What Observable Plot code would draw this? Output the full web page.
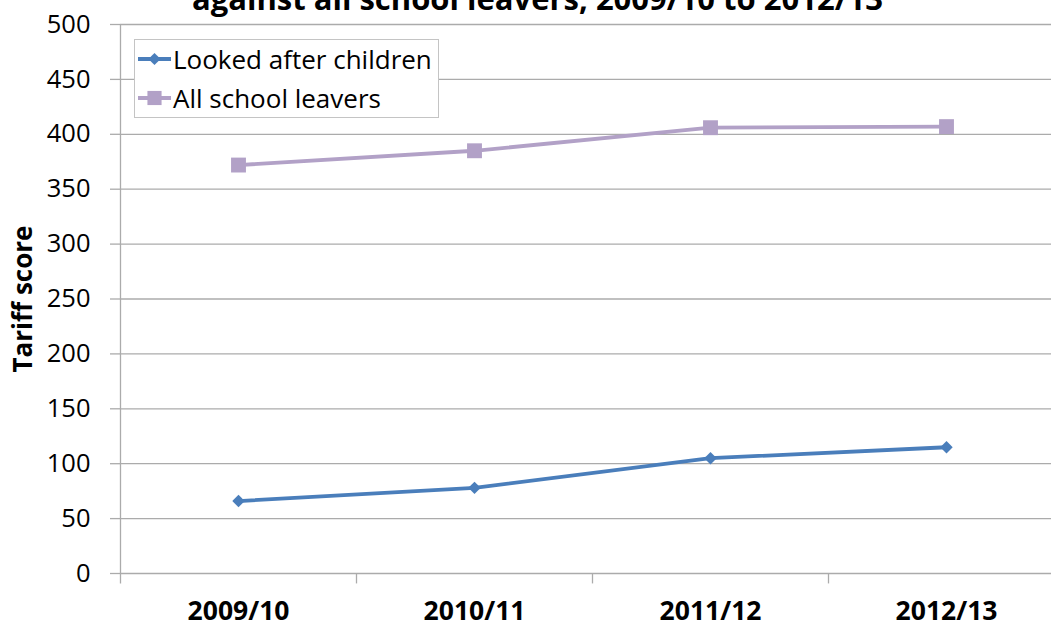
<!DOCTYPE html>
<html>
<head>
<meta charset="utf-8">
<script src="https://cdn.jsdelivr.net/npm/d3@7"></script>
<script src="https://cdn.jsdelivr.net/npm/@observablehq/plot@0.6"></script>
<style>
  html, body { margin: 0; padding: 0; background: #fff; }
  body { width: 1051px; height: 624px; overflow: hidden; position: relative; font-family: "Open Sans", sans-serif; }
  #chart svg { max-width: none !important; }
  #title { position: absolute; left: 0; width: 1075px; top: -17px; text-align: center; font-size: 31px; line-height: 30px; font-weight: bold; color: #000; white-space: nowrap; }
  #legend { position: absolute; left: 134px; top: 39px; width: 305px; height: 79px; border: 1px solid #c4c4c4; background: #fff; box-sizing: border-box; }
  .row { position: absolute; left: 3px; display: flex; align-items: center; font-size: 26px; line-height: 36px; color: #000; white-space: nowrap; }
  .row svg { margin-right: 2px; }
</style>
</head>
<body>
<div id="chart"></div>
<div id="title">against all school leavers, 2009/10 to 2012/13</div>
<div id="legend"></div>
<script>
const years = ["2009/10", "2010/11", "2011/12", "2012/13"];
const lookedAfter = [66, 78, 105, 115];
const allLeavers = [372, 385, 406, 407];
const seriesNames = ["Looked after children", "All school leavers"];
const seriesColors = ["#4a7ebb", "#b2a1c7"];
const seriesSymbols = ["diamond2", "square"];
const yTicks = [0, 50, 100, 150, 200, 250, 300, 350, 400, 450, 500];

const lacRows = years.map((yr, i) => ({series: seriesNames[0], year: yr, value: lookedAfter[i]}));
const allRows = years.map((yr, i) => ({series: seriesNames[1], year: yr, value: allLeavers[i]}));

const W = 1064, ML = 120, MR = 0;
const half = (W - ML - MR) / years.length / 2;
const grid = "#ababab";

const chart = Plot.plot({
  width: W, height: 624,
  marginLeft: ML, marginRight: MR, marginTop: 24, marginBottom: 51,
  style: {fontFamily: "Open Sans", fontSize: "25px", color: "#000", background: "#fff", overflow: "visible", maxWidth: "none"},
  x: {type: "band", domain: years, padding: 0},
  y: {domain: [0, 500]},
  marks: [
    Plot.gridY(yTicks, {stroke: grid, strokeOpacity: 1, strokeWidth: 1.3}),
    Plot.axisY(yTicks, {tickSize: 10, tickPadding: 20, stroke: grid, strokeWidth: 1.3, fill: "#000", fontSize: 25.5, label: null}),
    Plot.ruleX([years[0]], {dx: -half, y1: -9.5, y2: 500, stroke: grid, strokeWidth: 1.3}),
    Plot.ruleX(years.slice(1), {dx: -half, y1: -9.5, y2: 0, stroke: grid, strokeWidth: 1.3}),
    Plot.axisX({tickSize: 0, tickPadding: 28, fontWeight: "bold", fontSize: 26.5, fill: "#000", label: null}),
    Plot.text(["Tariff score"], {frameAnchor: "left", textAnchor: "middle", dx: -97, rotate: -90, fontWeight: "bold", fontSize: 26, fill: "#000"}),
    Plot.line(lacRows, {x: "year", y: "value", stroke: seriesColors[0], strokeWidth: 3.8}),
    Plot.line(allRows, {x: "year", y: "value", stroke: seriesColors[1], strokeWidth: 3.8}),
    Plot.dot(lacRows, {x: "year", y: "value", symbol: seriesSymbols[0], fill: seriesColors[0], stroke: null, r: 5.6}),
    Plot.dot(allRows, {x: "year", y: "value", symbol: seriesSymbols[1], fill: seriesColors[1], stroke: null, r: 8.4})
  ]
});
document.getElementById("chart").appendChild(chart);

// Legend
const legend = document.getElementById("legend");
seriesNames.forEach((name, i) => {
  const row = document.createElement("div");
  row.className = "row";
  row.style.top = (i === 0 ? 1 : 40) + "px";
  const sym = seriesSymbols[i] === "square" ? d3.symbolSquare : d3.symbolDiamond2;
  const size = seriesSymbols[i] === "square" ? 200 : 95;
  row.innerHTML = `<svg width="33" height="36"><line x1="0" x2="33" y1="18" y2="18" stroke="${seriesColors[i]}" stroke-width="3.8"/><path transform="translate(16.5,18)" d="${d3.symbol(sym, size)()}" fill="${seriesColors[i]}"/></svg><span>${name}</span>`;
  legend.appendChild(row);
});
</script>
</body>
</html>
